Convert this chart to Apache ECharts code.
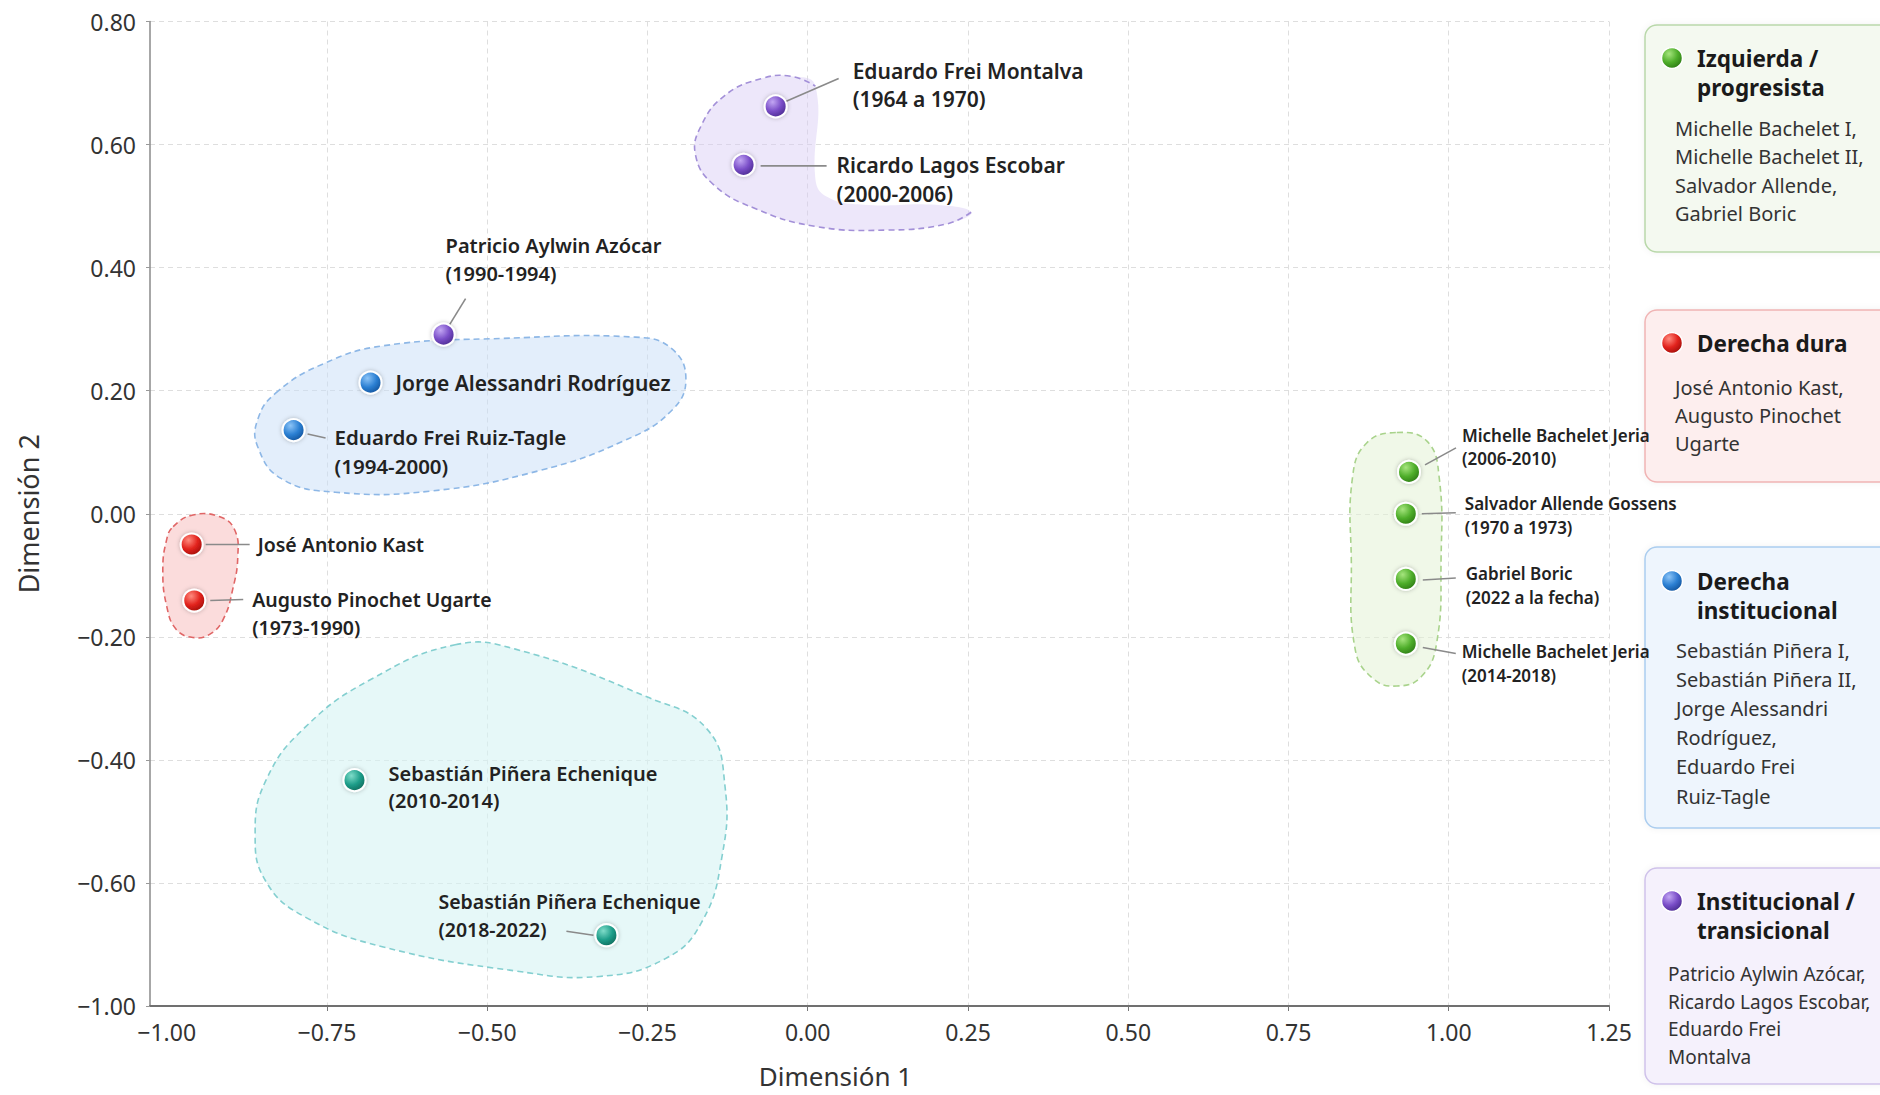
<!DOCTYPE html>
<html><head><meta charset="utf-8">
<script src="https://cdn.jsdelivr.net/npm/echarts@6.0.0/dist/echarts.min.js"></script>
<style>html,body{margin:0;padding:0;background:#fff;}#chart{width:1880px;height:1095px;}</style>
</head><body><div id="chart"></div>
<script>
// ---------------- DATA ----------------
const presidentNames = ['Eduardo Frei Montalva','Ricardo Lagos Escobar','Patricio Aylwin Azócar','Jorge Alessandri Rodríguez','Eduardo Frei Ruiz-Tagle','José Antonio Kast','Augusto Pinochet Ugarte','Sebastián Piñera Echenique','Sebastián Piñera Echenique','Michelle Bachelet Jeria','Salvador Allende Gossens','Gabriel Boric','Michelle Bachelet Jeria'];
const presidentPeriods = ['(1964 a 1970)','(2000-2006)','(1990-1994)','','(1994-2000)','','(1973-1990)','(2010-2014)','(2018-2022)','(2006-2010)','(1970 a 1973)','(2022 a la fecha)','(2014-2018)'];
const dim1 = [-0.05,-0.10,-0.568,-0.682,-0.802,-0.961,-0.957,-0.707,-0.314,0.938,0.933,0.933,0.933];
const dim2 = [0.662,0.567,0.291,0.213,0.136,-0.050,-0.141,-0.433,-0.685,0.068,0.000,-0.106,-0.211];
const pointGroup = ['purple','purple','purple','blue','blue','red','red','teal','teal','green','green','green','green'];

const xTicks = [-1, -0.75, -0.5, -0.25, 0, 0.25, 0.5, 0.75, 1, 1.25];
const xTickLabels = ['−1.00','−0.75','−0.50','−0.25','0.00','0.25','0.50','0.75','1.00','1.25'];
const yTicks = [-0.8, -0.6, -0.4, -0.2, 0, 0.2, 0.4, 0.6, 0.8];
const yTickLabels = ['−1.00','−0.60','−0.40','−0.20','0.00','0.20','0.40','0.60','0.80'];

// hull outlines (Dimensión 1, Dimensión 2)
const hullPurple = [[0.012,0.695],[0.012,0.544],[0.030,0.515],[0.087,0.502],[0.199,0.502],[0.255,0.490],[0.217,0.471],[0.124,0.461],[0.012,0.467],[-0.082,0.496],[-0.147,0.535],[-0.175,0.583],[-0.166,0.631],[-0.129,0.680],[-0.073,0.707],[-0.026,0.711]];
const hullBlue = [[-0.830,0.196],[-0.755,0.244],[-0.662,0.273],[-0.475,0.285],[-0.269,0.287],[-0.213,0.269],[-0.190,0.219],[-0.213,0.167],[-0.288,0.118],[-0.419,0.070],[-0.587,0.037],[-0.737,0.035],[-0.821,0.057],[-0.858,0.109],[-0.858,0.153]];
const hullRed = [[-0.990,-0.021],[-0.959,-0.002],[-0.917,-0.005],[-0.894,-0.026],[-0.889,-0.069],[-0.897,-0.123],[-0.912,-0.172],[-0.933,-0.196],[-0.959,-0.201],[-0.985,-0.188],[-1.000,-0.150],[-1.006,-0.091],[-1.000,-0.042]];
const hullTeal = [[-0.550,-0.213],[-0.456,-0.220],[-0.250,-0.298],[-0.157,-0.350],[-0.129,-0.443],[-0.134,-0.559],[-0.166,-0.665],[-0.222,-0.723],[-0.325,-0.752],[-0.456,-0.743],[-0.662,-0.704],[-0.783,-0.656],[-0.845,-0.598],[-0.862,-0.520],[-0.845,-0.433],[-0.783,-0.346],[-0.681,-0.269]];
const hullGreen = [[0.919,0.132],[0.966,0.118],[0.985,0.060],[0.988,-0.075],[0.981,-0.211],[0.957,-0.265],[0.919,-0.280],[0.882,-0.268],[0.854,-0.220],[0.848,-0.075],[0.850,0.060],[0.872,0.115]];

const legendTitles = [['Izquierda /','progresista'],['Derecha dura'],['Derecha','institucional'],['Institucional /','transicional']];
const legendMembers = [
  ['Michelle Bachelet I,','Michelle Bachelet II,','Salvador Allende,','Gabriel Boric'],
  ['José Antonio Kast,','Augusto Pinochet','Ugarte'],
  ['Sebastián Piñera I,','Sebastián Piñera II,','Jorge Alessandri','Rodríguez,','Eduardo Frei','Ruiz-Tagle'],
  ['Patricio Aylwin Azócar,','Ricardo Lagos Escobar,','Eduardo Frei','Montalva']
];
const legendGroup = ['green','red','blue','purple'];

// ---------------- STYLES / LAYOUT ----------------
const FONT = '"Noto Sans", "Open Sans", sans-serif';
const palette = {
  green:  {light:'#a6e57e', base:'#4fae2b', dark:'#2c7a14'},
  red:    {light:'#ff8a7e', base:'#e2231d', dark:'#a00d09'},
  blue:   {light:'#8cc4f7', base:'#2c80d3', dark:'#11529b'},
  purple: {light:'#c2a6f3', base:'#7a4ec8', dark:'#4a2a8f'},
  teal:   {light:'#7fdcc9', base:'#1f9e8a', dark:'#0c6a5b'}
};
const hullStyles = [
  {pts: hullPurple, fill:'rgba(214,202,243,0.45)', stroke:'#a390d8', openFrom:5},
  {pts: hullBlue,   fill:'rgba(200,222,247,0.50)', stroke:'#8db7e6'},
  {pts: hullRed,    fill:'rgba(248,196,196,0.60)', stroke:'#e06666'},
  {pts: hullTeal,   fill:'rgba(214,244,244,0.60)', stroke:'#84cfd0'},
  {pts: hullGreen,  fill:'rgba(228,242,214,0.55)', stroke:'#a9d38c'}
];
// label offsets (px from point): text left, first-line centre, font size, line height, leader line
const labelLayout = [
  {tx:77, ty:-35, fs:21, lh:28, ln:[10,-5,63,-28]},
  {tx:93, ty:0, fs:21, lh:29, ln:[17,1,83,1]},
  {tx:2, ty:-89, fs:20, lh:27.5, ln:[6,-10,22,-36]},
  {tx:25, ty:0, fs:21, lh:28, ln:null},
  {tx:41, ty:7, fs:20.5, lh:29, ln:[14,4,32,8]},
  {tx:66, ty:0, fs:19.5, lh:27, ln:[14,0,58,0]},
  {tx:58, ty:-1, fs:19.5, lh:27.5, ln:[16,0,49,-1]},
  {tx:34, ty:-7, fs:20, lh:27, ln:null},
  {tx:-168, ty:-34, fs:19.5, lh:28, ln:[-40,-4,-13,0]},
  {tx:53, ty:-36, fs:17, lh:23, ln:[16,-7,47,-24]},
  {tx:59, ty:-10, fs:17, lh:24, ln:[16,0,50,-1]},
  {tx:60, ty:-5, fs:17, lh:24, ln:[17,1,50,-1]},
  {tx:56, ty:8, fs:17, lh:24, ln:[17,4,50,10]}
];
const legendLayout = [
  {top:25, h:227, titleY:58, bodyY:128, lh:28.5, bx:1675, fs:20},
  {top:310, h:172, titleY:343, bodyY:387, lh:28, bx:1675, fs:20},
  {top:547, h:281, titleY:581, bodyY:650, lh:29.2, bx:1676, fs:20},
  {top:868, h:216, titleY:901, bodyY:974, lh:27.5, bx:1668, fs:19}
];
const legendBoxStyle = {
  green: {fill:'#f4f9f0', stroke:'#b9d8aa'},
  red: {fill:'#fdeeee', stroke:'#f0b4b4'},
  blue: {fill:'#eef5fd', stroke:'#abcdef'},
  purple: {fill:'#f5f1fc', stroke:'#cfc2ea'}
};

function sphere(key) {
  const p = palette[key];
  return new echarts.graphic.RadialGradient(0.36, 0.3, 0.75, [
    {offset:0, color:p.light}, {offset:0.55, color:p.base}, {offset:1, color:p.dark}
  ]);
}
function tickLabel(ticks, labels) {
  return v => { const i = ticks.findIndex(t => Math.abs(t - v) < 1e-6); return i >= 0 ? labels[i] : ''; };
}

const chart = echarts.init(document.getElementById('chart'), null, {renderer:'svg'});

const series = [];
// hulls
series.push({
  type:'custom', coordinateSystem:'cartesian2d', silent:true, z:1, clip:false,
  data: hullStyles.map((h, i) => [h.pts[0][0], h.pts[0][1], i]),
  renderItem: (params, api) => {
    const h = hullStyles[api.value(2)];
    const pts = h.pts.map(p => api.coord(p));
    const children = [];
    if (h.openFrom != null) {
      children.push({type:'polygon', shape:{points:pts, smooth:0.45}, style:{fill:h.fill, stroke:null}});
      const open = pts.slice(h.openFrom).concat([pts[0]]);
      children.push({type:'polyline', shape:{points:open, smooth:0.45}, style:{fill:null, stroke:h.stroke, lineWidth:1.6, lineDash:[6,4]}});
    } else {
      children.push({type:'polygon', shape:{points:pts, smooth:0.45}, style:{fill:h.fill, stroke:h.stroke, lineWidth:1.6, lineDash:[6,4]}});
    }
    return {type:'group', children};
  }
});
// labels + leader lines
series.push({
  type:'custom', coordinateSystem:'cartesian2d', silent:true, z:3, clip:false,
  data: dim1.map((x, i) => [x, dim2[i], i]),
  renderItem: (params, api) => {
    const i = api.value(2);
    const p = api.coord([api.value(0), api.value(1)]);
    const L = labelLayout[i];
    const children = [];
    if (L.ln) children.push({type:'line', shape:{x1:p[0]+L.ln[0], y1:p[1]+L.ln[1], x2:p[0]+L.ln[2], y2:p[1]+L.ln[3]}, style:{stroke:'#8a8a8a', lineWidth:1.6}});
    const txt = presidentPeriods[i] ? presidentNames[i] + '\n' + presidentPeriods[i] : presidentNames[i];
    children.push({type:'text', style:{x:p[0]+L.tx, y:p[1]+L.ty-L.lh/2, text:txt, fontSize:L.fs, lineHeight:L.lh, fontFamily:FONT, fontWeight:600, fill:'#222', align:'left', verticalAlign:'top'}});
    return {type:'group', children};
  }
});
// points
['purple','blue','red','teal','green'].forEach(key => {
  series.push({
    type:'scatter', z:4, symbolSize:22, silent:true,
    data: dim1.map((x, i) => pointGroup[i] === key ? [x, dim2[i]] : null).filter(d => d),
    itemStyle:{color:sphere(key), borderColor:'#ffffff', borderWidth:2, shadowBlur:4, shadowColor:'rgba(0,0,0,0.25)', opacity:1}
  });
});

// legend boxes
const graphics = [];
legendGroup.forEach((key, i) => {
  const Ly = legendLayout[i], st = legendBoxStyle[key];
  graphics.push({type:'rect', silent:true, shape:{x:1645, y:Ly.top, width:300, height:Ly.h, r:12}, style:{fill:st.fill, stroke:st.stroke, lineWidth:1.5, shadowBlur:6, shadowColor:'rgba(0,0,0,0.06)'}});
  graphics.push({type:'circle', silent:true, shape:{cx:1672, cy:Ly.titleY, r:10.5}, style:{fill:sphere(key), stroke:'#fff', lineWidth:1.5}});
  graphics.push({type:'text', silent:true, style:{x:1697, y:Ly.titleY-14.5, text:legendTitles[i].join('\n'), fontSize:22.5, fontWeight:'bold', fontFamily:FONT, lineHeight:29, fill:'#1a1a1a', align:'left', verticalAlign:'top'}});
  graphics.push({type:'text', silent:true, style:{x:Ly.bx, y:Ly.bodyY-Ly.lh/2, text:legendMembers[i].join('\n'), fontSize:Ly.fs, fontFamily:FONT, lineHeight:Ly.lh, fill:'#333', align:'left', verticalAlign:'top'}});
});

chart.setOption({
  backgroundColor:'#ffffff',
  animation:false,
  grid:{left:150, right:271, top:21.5, bottom:89, containLabel:false, outerBoundsMode:'none'},
  xAxis:{
    type:'value', min:-1.026, max:1.25,
    name:'Dimensión 1', nameLocation:'middle', nameGap:57,
    nameTextStyle:{fontSize:26, fontFamily:FONT, color:'#333', padding:[0,88,0,0]},
    axisLine:{show:true, onZero:false, lineStyle:{color:'#707070', width:2}},
    axisTick:{show:true, length:5, lineStyle:{color:'#777'}, customValues:xTicks.slice(1)},
    axisLabel:{fontSize:23, fontFamily:FONT, color:'#333', margin:14, customValues:xTicks, formatter:tickLabel(xTicks, xTickLabels)},
    splitLine:{show:true, lineStyle:{color:'#dedede', type:[5,4], width:1}}
  },
  yAxis:{
    type:'value', min:-0.8, max:0.8,
    name:'Dimensión 2', nameLocation:'middle', nameGap:108,
    nameTextStyle:{fontSize:27, fontFamily:FONT, color:'#333'},
    axisLine:{show:true, onZero:false, lineStyle:{color:'#8a8a8a', width:1.5}},
    axisTick:{show:true, length:4, lineStyle:{color:'#999'}, customValues:yTicks},
    axisLabel:{fontSize:23, fontFamily:FONT, color:'#333', margin:14, customValues:yTicks, formatter:tickLabel(yTicks, yTickLabels)},
    splitLine:{show:true, lineStyle:{color:'#dedede', type:[5,4], width:1}}
  },
  series,
  graphic:{elements:graphics}
});
</script></body></html>
